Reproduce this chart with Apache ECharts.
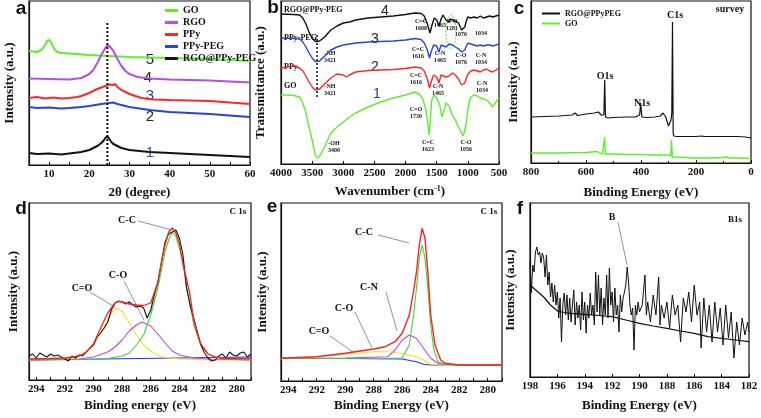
<!DOCTYPE html>
<html><head><meta charset="utf-8">
<script src="https://cdn.jsdelivr.net/npm/echarts@6/dist/echarts.min.js"></script>
<style>html,body{margin:0;padding:0;background:#fff}#c{width:761px;height:418px}</style>
</head><body><div id="c"></div>
<script>
// ---- (a) XRD ----
const xrdGO = [[5,114],[6,113.5],[7,113],[8,115],[8.5,117],[9,120],[9.5,124],[10,125],[10.5,123],[11,118],[11.5,115],[12,113],[13,112],[15,111.5],[20,110],[25,109],[30,108],[35,107.5],[40,107],[45,106.5],[50,106],[55,105],[60,104]];
const xrdRGO = [[5,86.5],[10,86],[15,85.5],[18,87],[20,91],[21,95],[22,102],[23,110],[24,117],[24.5,119.5],[25,119],[26,114],[27,106],[28,99],[29,94],[30,91],[32,88],[35,86.5],[40,85.5],[45,85],[50,84.5],[55,83.5],[60,82.5]];
const xrdPPy = [[5,67],[7,68],[9,66.5],[11,67.5],[13,66.5],[15,67],[17,68],[18,69],[20,72],[22,76],[23,77.5],[24,79],[25,80.5],[26,80],[26.5,81],[27,78],[28,75],[30,71],[33,67],[36,65.5],[40,65],[45,64.5],[50,64],[55,62.5],[60,61]];
const xrdPPyPEG = [[5,58],[7,57],[10,57.5],[13,56.5],[15,57],[18,58],[20,59],[23,61],[25,62],[26,62.5],[27,61],[30,58],[35,55],[40,53],[45,52],[50,51],[55,49.5],[60,48]];
const xrdComposite = [[5,12],[7,11],[10,11.5],[13,10.5],[15,11.5],[18,13],[20,15],[22,19],[23,22],[23.5,24],[24,27],[24.5,29],[25,26],[25.5,23],[26,21],[27,19],[28,17],[30,15],[35,13],[40,12],[45,11],[50,10],[55,9],[60,8]];
const xrdRefLine = [[24.5,0],[24.5,142]];
const xrdNames = ['GO','RGO','PPy','PPy-PEG','RGO@PPy-PEG'];

// ---- (b) FTIR ----
const ftirComposite = [[4000,150],[3800,149.5],[3700,149],[3650,146],[3600,140],[3550,132],[3500,126],[3450,122.5],[3421,122],[3380,123],[3300,127],[3200,134],[3100,138],[3000,141],[2900,142],[2800,144],[2600,146],[2400,147],[2200,148],[2000,149.5],[1850,151],[1750,150.5],[1700,148],[1650,140],[1608,131],[1580,138],[1540,146],[1500,144],[1465,138],[1430,145],[1400,149],[1350,144],[1300,142],[1281,145],[1250,143],[1200,143],[1150,141],[1100,134],[1076,132],[1050,137],[1020,144],[1000,147],[950,146],[900,147],[850,146],[800,148],[750,146],[700,147],[650,148],[600,147],[550,148],[500,149]];
const ftirPPyPEG = [[4000,126],[3800,125.5],[3700,125],[3650,122],[3600,117],[3550,111],[3500,106],[3450,102.5],[3421,102],[3380,103],[3300,108],[3200,114],[3100,117],[3000,119],[2900,120],[2800,121],[2600,122],[2400,122.5],[2200,123],[2000,124],[1850,125.5],[1750,124.5],[1700,121],[1650,114],[1616,106],[1590,112],[1550,119],[1500,118],[1465,112],[1430,119],[1400,118],[1350,117],[1300,120],[1281,121],[1250,119],[1200,117],[1150,115],[1100,112],[1076,113],[1050,114],[1034,116],[1000,121],[950,120],[900,119],[850,118],[800,119],[750,118],[700,119],[650,119],[600,118],[550,119],[500,120]];
const ftirPPy = [[4000,96],[3900,97],[3800,98],[3700,96],[3650,93],[3600,88],[3550,82],[3500,77],[3450,74],[3421,73.5],[3380,75],[3300,80],[3200,86],[3100,90],[3000,89],[2950,87],[2900,89],[2800,92],[2600,93.5],[2400,94],[2200,94.5],[2000,95.5],[1850,97],[1750,96],[1700,93],[1650,85],[1616,76],[1590,82],[1550,89],[1500,87],[1465,81],[1430,89],[1400,90],[1350,87],[1300,88],[1250,91],[1200,89],[1150,85],[1100,79],[1076,77],[1050,81],[1034,83],[1000,90],[950,93],[900,94],[850,93],[800,92],[750,94],[700,95],[650,93],[600,92],[550,94],[500,96]];
const ftirGO = [[4000,69],[3900,69],[3800,68.5],[3700,67],[3650,61],[3600,51],[3550,37],[3500,24],[3450,9],[3420,6],[3380,8],[3300,17],[3200,31],[3100,37],[3000,42],[2900,47],[2800,51],[2600,57],[2400,62],[2200,66],[2000,69],[1900,71],[1850,72],[1780,70],[1730,66],[1680,56],[1650,44],[1623,29],[1600,46],[1580,64],[1540,69],[1500,66],[1450,59],[1420,47],[1400,49],[1380,54],[1350,61],[1300,58],[1250,49],[1200,44],[1150,37],[1100,31],[1075,28],[1056,27],[1030,39],[1000,54],[970,64],[950,67],[900,69],[850,68],[800,66],[750,65],[700,64],[650,61],[600,57],[570,60],[550,62],[500,66]];
const ftirRefLine = [[3421,67],[3421,131]];

// ---- (c) XPS survey ----
const surveyComposite = [[800,46],[750,46.5],[700,47],[650,48],[640,50],[630,47.5],[600,49],[570,50],[555,51],[545,48],[540,46],[535,48],[533,70],[532,83],[531,70],[529,46],[520,45],[500,45.5],[450,46],[420,46],[405,48],[401,60],[397,46],[380,45.5],[350,46],[330,47],[320,50],[310,46],[300,37],[295,37],[291,43],[288,50],[285.5,141],[283,30],[281,27],[270,26.5],[250,26.5],[200,26.5],[180,27],[175,28],[170,26.5],[100,26.5],[50,26.5],[20,26],[0,25]];
const surveyGO = [[800,10],[700,10],[600,10.5],[560,11.5],[550,10],[540,9],[534,9],[532,26],[530,9],[500,9],[450,8.5],[400,8.5],[350,8],[300,8],[292,7],[289,23],[286,6],[285,5],[200,5],[150,5],[100,5.5],[90,6],[80,5],[50,5],[0,4.5]];

// ---- (d) C 1s of GO ----
const c1sDRaw = [[294.5,24],[294.25,26],[294,22],[293.75,27],[293.5,25],[293.25,23],[293,26],[292.75,24],[292.5,25],[292.25,23],[292,21],[291.75,19],[291.5,24],[291.25,22],[291,25],[290.75,24],[290.5,28],[290.25,32],[290,35],[289.75,43],[289.5,47],[289.25,52],[289,58],[288.75,70],[288.5,77],[288.25,79],[288,78],[287.75,76],[287.5,78],[287.25,75],[287,73],[286.75,74],[286.5,72],[286.25,62],[286,70],[285.75,85],[285.5,98],[285.25,118],[285,138],[284.75,146],[284.5,148],[284.25,150],[284,142],[283.75,125],[283.5,92],[283.25,75],[283,62],[282.75,48],[282.5,35],[282.25,27],[282,22],[281.75,19],[281.5,20],[281.25,24],[281,26],[280.75,22],[280.5,28],[280.25,25],[280,24],[279.75,27],[279.5,28],[279.25,23],[279,26]];
const c1sDFit = [[294.5,21],[293,21.5],[292,22],[291,24],[290.5,28],[290,36],[289.5,52],[289,67],[288.5,77],[288.25,78.5],[288,78],[287.5,76],[287,75],[286.5,74.5],[286,77],[285.5,98],[285.25,118],[285,135],[284.75,148],[284.5,152],[284.25,147],[284,137],[283.75,115],[283.5,101],[283.25,84],[283,60],[282.75,47],[282.5,36],[282,26],[281.5,23],[281,22],[280,21.5],[279,21.5]];
const c1sDCO2 = [[294.5,20],[292,21],[291,24],[290.5,28],[290,35],[289.5,48],[289,60],[288.7,68],[288.4,72],[288,69],[287.5,57],[287,45],[286.5,35],[286,29],[285.5,25],[285,22.5],[284,21],[282,20],[279,20]];
const c1sDCO = [[294.5,20],[291,21],[290,23],[289,28],[288.5,33],[288,40],[287.5,49],[287,55],[286.6,58],[286,54],[285.5,46],[285,37],[284.5,29],[284,25],[283,22],[282,21],[279,20]];
const c1sDCC = [[294.5,20],[290,20.5],[289,21.5],[288,24],[287.5,27],[287,35],[286.5,45],[286,65],[285.5,92],[285,128],[284.75,140],[284.5,148],[284.25,144],[284,132],[283.75,118],[283.5,92],[283.25,75],[283,55],[282.5,35],[282,26],[281.5,23],[281,21.5],[280,20.5],[279,20]];
const c1sDBase = [[294.5,20],[279,23]];

// ---- (e) C 1s of composite ----
const c1sEFit = [[294.5,22.7],[292,24.3],[290,27.7],[288,32],[287.2,34.3],[286.5,39.3],[286,47.7],[285.5,66],[285.2,90],[285,109],[284.8,136],[284.6,152.7],[284.4,142.7],[284.2,109],[284,66],[283.7,36],[283.3,21],[283,17.7],[282,16],[279,16]];
const c1sECC = [[294.5,22.5],[287,22.7],[286,23],[285.9,23.3],[285.5,36],[285.2,66],[285,92.7],[284.8,122.7],[284.6,136],[284.4,122.7],[284.2,92.7],[284,56],[283.8,32.7],[283.5,19.3],[283,16.7],[282,16],[279,16]];
const c1sECN = [[294.5,22.7],[290,23],[287,24.3],[286.5,31],[286,41],[285.5,46],[285,42.7],[284.5,32.7],[284,22.7],[283.5,17.7],[283,16.5],[279,16]];
const c1sECO = [[294.5,22],[292,24.3],[290,26.7],[288,29.3],[287,29.3],[286,27.7],[285,24.3],[284.5,21],[284,16.7],[283,16],[279,16]];
const c1sEBase = [[294.5,22.7],[290,22.5],[286,22],[285,19.3],[284.5,16.7],[284,16],[279,16]];

// ---- (f) B 1s ----
const b1sRaw = [[198,106],[197.9,75],[197.8,103],[197.7,96],[197.6,116],[197.5,121],[197.4,113],[197.3,116],[197.2,105],[197.1,115],[197,110],[196.9,91],[196.8,113],[196.7,83],[196.6,96],[196.5,71],[196.4,85],[196.3,66],[196.2,83],[196.1,63],[196,76],[195.9,50],[195.8,70],[195.7,26],[195.6,63],[195.5,75],[195.4,53],[195.3,73],[195.2,48],[195.1,70],[195,46],[194.9,63],[194.8,78],[194.7,43],[194.6,66],[194.5,50],[194.4,63],[194.3,38],[194.2,76],[194.1,48],[194,66],[193.9,35],[193.8,63],[193.7,50],[193.6,75],[193.5,53],[193.4,63],[193.3,43],[193.2,96],[193.1,56],[193,93],[192.9,53],[192.8,80],[192.7,43],[192.6,70],[192.5,53],[192.4,93],[192.3,50],[192.2,100],[192.1,63],[192,76],[191.9,46],[191.8,80],[191.7,53],[191.6,63],[191.5,36],[191.4,73],[191.3,56],[191.2,70],[191.1,76],[191,83],[190.9,101],[190.8,86],[190.7,63],[190.6,53],[190.5,60],[190.4,18],[190.3,63],[190.2,53],[190.1,66],[190,56],[189.8,63],[189.6,93],[189.5,53],[189.4,66],[189.2,46],[189,73],[188.8,53],[188.6,91],[188.5,43],[188.4,63],[188.2,50],[188,66],[187.8,40],[187.6,73],[187.4,53],[187.2,63],[187,26],[186.8,70],[186.6,56],[186.4,76],[186.2,46],[186,83],[185.8,53],[185.6,66],[185.5,20],[185.3,70],[185.1,36],[184.9,63],[184.7,26],[184.5,66],[184.3,36],[184.1,60],[183.9,23],[183.7,63],[183.5,30],[183.3,56],[183.1,10],[182.9,46],[182.7,23],[182.5,50],[182.3,33],[182.1,46],[182,36]];
const b1sBackground = [[198,83],[197.5,77],[197,71],[196.5,63],[196,57],[195.5,55.5],[195,54.7],[194,53.7],[193,52.5],[192,51.3],[191,48],[190,44.7],[189,42],[188,39.7],[187,37],[186,34.7],[185,31.3],[184,29.7],[183,28],[182,26.3]];

// ---------------- chart ----------------
const SERIF = '"Liberation Serif", "Times New Roman", serif';
const SANS = '"Liberation Sans", Arial, sans-serif';
const grids = [
  {left:29, top:1, width:221, height:164},
  {left:281, top:1, width:218, height:163},
  {left:531, top:1, width:220, height:162},
  {left:29, top:203, width:222, height:177},
  {left:281, top:203, width:221, height:178},
  {left:530, top:203, width:219, height:174}
].map(g => Object.assign(g, {show:true, borderColor:'#111', borderWidth:1.2, backgroundColor:'transparent'}));

const plain = v => String(v);
const evenOnly = v => (Math.abs(v % 2) < 1e-6 ? String(v) : '');
const labelStyle = f => ({color:'#111', fontFamily:SERIF, fontWeight:'bold', fontSize:11, margin:4, formatter:f || plain});
function xa(gi, o) {
  return Object.assign({
    type:'value', gridIndex:gi, nameLocation:'middle',
    axisLine:{show:true, onZero:false, lineStyle:{color:'#111', width:1.2}},
    axisTick:{show:true, inside:true, length:3, lineStyle:{color:'#111'}},
    axisLabel:labelStyle(),
    splitLine:{show:false},
    nameTextStyle:{color:'#111', fontFamily:SERIF, fontWeight:'bold', fontSize:13}
  }, o);
}
function ya(gi, o) {
  return Object.assign({
    type:'value', gridIndex:gi, nameLocation:'middle', nameRotate:90,
    axisLine:{show:true, onZero:false, lineStyle:{color:'#111', width:1.2}},
    axisTick:{show:false}, axisLabel:{show:false}, splitLine:{show:false},
    nameTextStyle:{color:'#111', fontFamily:SERIF, fontWeight:'bold', fontSize:13}
  }, o);
}
const xAxes = [
  xa(0,{min:5, max:60, interval:5, name:'2θ (degree)', nameGap:21, axisLabel:labelStyle(v => (v%10===0 ? String(v) : ''))}),
  xa(1,{min:500, max:4000, interval:500, inverse:true, name:'{a|Wavenumber (cm}{s|-1}{a|)}', nameGap:21,
        nameTextStyle:{rich:{a:{color:'#111', fontFamily:SERIF, fontWeight:'bold', fontSize:13}, s:{color:'#111', fontFamily:SERIF, fontWeight:'bold', fontSize:8, verticalAlign:'top', padding:[0,0,6,0]}}}}),
  xa(2,{min:0, max:800, interval:200, inverse:true, name:'Binding Energy (eV)', nameGap:23, minorTick:{show:true, splitNumber:2, length:2, lineStyle:{color:'#111'}}}),
  xa(3,{min:279, max:294.5, interval:1, inverse:true, name:'Binding energy (eV)', nameGap:19, axisLabel:labelStyle(evenOnly)}),
  xa(4,{min:279, max:294.5, interval:1, inverse:true, name:'Binding Energy (eV)', nameGap:18, axisLabel:labelStyle(evenOnly)}),
  xa(5,{min:182, max:198, interval:2, inverse:true, name:'Binding Energy (eV)', nameGap:22})
];
const yAxes = [
  ya(0,{min:0, max:164, name:'Intensity (a.u.)', nameGap:13}),
  ya(1,{min:0, max:163, name:'Transmittance (a.u.)', nameGap:14}),
  ya(2,{min:0, max:162, name:'Intensity (a.u.)', nameGap:11}),
  ya(3,{min:0, max:177, name:'Intensity (a.u.)', nameGap:9}),
  ya(4,{min:0, max:178, name:'Intensity (a.u.)', nameGap:12}),
  ya(5,{min:-9, max:165, name:'Intensity (a.u.)', nameGap:13})
];

function ln(name, data, gi, color, width, extra) {
  return Object.assign({name, type:'line', xAxisIndex:gi, yAxisIndex:gi, data, showSymbol:false, symbol:'none',
    lineStyle:{color, width}, itemStyle:{color}, animation:false, silent:true}, extra||{});
}
const cGreen='#5cf02a', cPurple='#b44ee6', cRed='#ff2626', cBlue='#2845d8', cBlack='#111';
const series = [
  ln('GO', xrdGO, 0, cGreen, 2),
  ln('RGO', xrdRGO, 0, cPurple, 2),
  ln('PPy', xrdPPy, 0, cRed, 2),
  ln('PPy-PEG', xrdPPyPEG, 0, cBlue, 2),
  ln('RGO@PPy-PEG', xrdComposite, 0, cBlack, 2),
  ln('refA', xrdRefLine, 0, '#111', 2, {lineStyle:{color:'#111', width:2, type:[2,2]}}),

  ln('ftir-comp', ftirComposite, 1, cBlack, 1.4),
  ln('ftir-peg', ftirPPyPEG, 1, cBlue, 1.4),
  ln('ftir-ppy', ftirPPy, 1, cRed, 1.4),
  ln('ftir-go', ftirGO, 1, cGreen, 1.4),
  ln('refB', ftirRefLine, 1, '#111', 1.5, {lineStyle:{color:'#111', width:1.5, type:[2,2]}}),

  ln('RGO@PPyPEG', surveyComposite, 2, cBlack, 1.2),
  ln('GO', surveyGO, 2, cGreen, 1.4),

  ln('d-base', c1sDBase, 3, '#2a2aff', 1),
  ln('d-CO2', c1sDCO2, 3, '#e6e62a', 1.1),
  ln('d-CO', c1sDCO, 3, '#c045e0', 1.1),
  ln('d-CC', c1sDCC, 3, '#38d838', 1.1),
  ln('d-raw', c1sDRaw, 3, '#111', 1.1),
  ln('d-fit', c1sDFit, 3, '#ff2020', 1.3),

  ln('e-base', c1sEBase, 4, '#2a2aff', 1.1),
  ln('e-CO', c1sECO, 4, '#e6e62a', 1.1),
  ln('e-CN', c1sECN, 4, '#c045e0', 1.1),
  ln('e-CC', c1sECC, 4, '#38d838', 1.1),
  ln('e-fit', c1sEFit, 4, '#ff2020', 1.4),

  ln('f-raw', b1sRaw, 5, '#111', 1),
  ln('f-bg', b1sBackground, 5, '#111', 1.2)
];

function txt(x, y, t, o) {
  return {type:'text', x, y, silent:true, style:Object.assign({text:t, fill:'#111', font:'bold 10px '+SERIF, textAlign:'center', textVerticalAlign:'middle'}, o||{})};
}
function seg(x1,y1,x2,y2,c) { return {type:'line', silent:true, shape:{x1,y1,x2,y2}, style:{stroke:c||'#777', lineWidth:0.8}}; }
const small = {font:'bold 6px '+SERIF, lineHeight:7};
const graphics = [
  txt(21,9,'a',{font:'bold 19px '+SANS}), txt(273,8,'b',{font:'bold 19px '+SANS}), txt(519,9,'c',{font:'bold 19px '+SANS}),
  txt(21,209,'d',{font:'bold 19px '+SANS}), txt(272,207,'e',{font:'bold 19px '+SANS}), txt(520,209,'f',{font:'bold 19px '+SANS}),
  // a numbers
  txt(150,60,'5',{font:'15px '+SANS, fill:'#222'}), txt(148,78,'4',{font:'15px '+SANS, fill:'#222'}),
  txt(150,96,'3',{font:'15px '+SANS, fill:'#2a3a9a'}), txt(150,117,'2',{font:'15px '+SANS, fill:'#222'}),
  txt(150,153,'1',{font:'15px '+SANS, fill:'#3050b0'}),
  // b labels
  txt(284,10,'RGO@PPy-PEG',{font:'bold 8px '+SERIF, textAlign:'left'}),
  txt(284,38,'PPy-PEG',{font:'bold 8px '+SERIF, textAlign:'left'}),
  txt(284,67,'PPy',{font:'bold 8px '+SERIF, textAlign:'left'}),
  txt(284,86,'GO',{font:'bold 8px '+SERIF, textAlign:'left'}),
  txt(385,11,'4',{font:'14px '+SANS, fill:'#222'}), txt(375,39,'3',{font:'14px '+SANS, fill:'#222'}),
  txt(375,67,'2',{font:'14px '+SANS, fill:'#222'}), txt(377,94,'1',{font:'14px '+SANS, fill:'#2a3a9a'}),
  txt(330,57,'-NH\n3421',small), txt(330,90,'-NH\n3421',small), txt(334,147,'-OH\n3400',small),
  txt(421,25,'C=C\n1608',small), txt(440,25,'1465',small), txt(452,25,'B-O\n1281',small), txt(461,34,'1076',small), txt(481,33,'1034',small),
  txt(418,53,'C=C\n1616',small), txt(440,57,'C-N\n1465',small), txt(461,59,'C-O\n1076',small), txt(481,59,'C-N\n1034',small),
  txt(416,79,'C=C\n1616',small), txt(438,90,'C-N\n1465',small), txt(482,87,'C-N\n1034',small),
  txt(416,113,'C=O\n1730',small), txt(428,146,'C=C\n1623',small), txt(466,146,'C-O\n1056',small),
  {type:'ellipse', silent:true, shape:{cx:451, cy:32, rx:5, ry:17}, style:{fill:'none', stroke:'#5cf02a', lineWidth:1, lineDash:[2,1.5]}},
  // c labels
  txt(730,9,'survey'), txt(605,76,'O1s'), txt(642,103,'N1s'), txt(675,15,'C1s'),
  // d labels
  txt(238,212,'C 1s',{font:'bold 9px '+SERIF}),
  txt(127,220,'C-C'), seg(138,221,172,230), txt(118,275,'C-O'), seg(124,281,144,320), txt(82,288,'C=O'), seg(90,292,115,307),
  // e labels
  txt(489,212,'C 1s',{font:'bold 9px '+SERIF}),
  txt(364,232,'C-C'), seg(378,235,409,243), txt(369,287,'C-N'), seg(386,292,397,331),
  txt(344,308,'C-O'), seg(355,312,372,348), txt(319,331,'C=O'), seg(330,336,353,352),
  // f labels
  txt(735,220,'B1s',{font:'bold 9px '+SERIF}), txt(612,217,'B'), seg(618,222,627,265)
];

const chart = echarts.init(document.getElementById('c'), null, {renderer:'canvas'});
chart.setOption({
  animation:false,
  backgroundColor:'#fff',
  grid: grids, xAxis: xAxes, yAxis: yAxes, series,
  legend: [
    {data: xrdNames, orient:'vertical', left:160, top:0, itemWidth:13, itemHeight:3, itemGap:1, icon:'rect',
     textStyle:{color:'#111', fontFamily:SERIF, fontWeight:'bold', fontSize:10, lineHeight:11, padding:[0,0,0,0]}, selectedMode:false},
    {data: ['RGO@PPyPEG','GO'], orient:'vertical', left:537, top:4, itemWidth:18, itemHeight:2, itemGap:1, icon:'rect',
     textStyle:{color:'#111', fontFamily:SERIF, fontWeight:'bold', fontSize:8, lineHeight:9}, selectedMode:false}
  ],
  graphic: graphics
});
</script></body></html>
